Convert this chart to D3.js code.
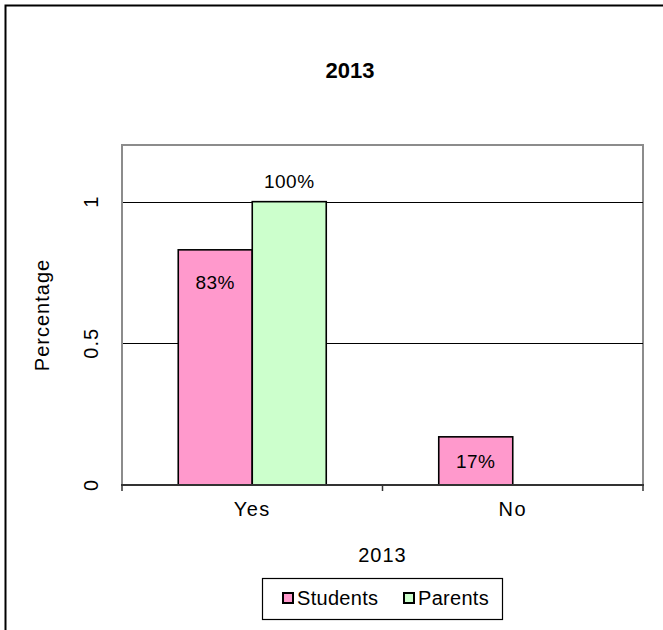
<!DOCTYPE html>
<html>
<head>
<meta charset="utf-8">
<script src="https://cdn.jsdelivr.net/npm/d3@7"></script>
<style>
  html, body { margin: 0; padding: 0; background: #fff; }
  svg { display: block; font-family: "Liberation Sans", Arial, sans-serif; }
</style>
</head>
<body>
<svg id="chart" width="663" height="630"></svg>
<script>
// Survey answers for 2013
const chartTitle = "2013";
const categories = ["Yes", "No"];
const seriesNames = ["Students", "Parents"];
const studentsValues = [0.83, 0.17];
const parentsValues = [1.00, 0.00];
const seriesColors = ["#FF99CC", "#CCFFCC"];
const labelPlacement = ["inside", "outside"];
const yTicks = [0, 0.5, 1];
const yMax = 1.2;
const xAxisTitle = "2013";
const yAxisTitle = "Percentage";

const seriesValues = [studentsValues, parentsValues];

const svg = d3.select("#chart");
const plot = { left: 122, right: 643, top: 145, bottom: 485 };

// outer chart frame (runs past the right and bottom edges of the view)
svg.append("rect")
  .attr("x", 5.5).attr("y", 5.5)
  .attr("width", 720).attr("height", 720)
  .attr("fill", "#fff").attr("stroke", "#000").attr("stroke-width", 2);

// title
svg.append("text")
  .attr("x", 350).attr("y", 78)
  .attr("text-anchor", "middle")
  .attr("font-size", 22).attr("font-weight", "bold")
  .text(chartTitle);

const x0 = d3.scaleBand().domain(categories)
  .range([plot.left, plot.right]).paddingInner(0).paddingOuter(0);
const groupWidth = 148;
const x1 = d3.scaleBand().domain(seriesNames).range([0, groupWidth]).padding(0);
const y = d3.scaleLinear().domain([0, yMax]).range([plot.bottom, plot.top]);

// plot area fill and border
svg.append("rect")
  .attr("x", plot.left).attr("y", plot.top)
  .attr("width", plot.right - plot.left).attr("height", plot.bottom - plot.top)
  .attr("fill", "#fff").attr("stroke", "#8c8c8c").attr("stroke-width", 2);

// horizontal gridlines
svg.append("g")
  .selectAll("line")
  .data(yTicks.filter(d => d > 0))
  .join("line")
  .attr("x1", plot.left).attr("x2", plot.right)
  .attr("y1", d => Math.round(y(d)) + 0.5).attr("y2", d => Math.round(y(d)) + 0.5)
  .attr("stroke", "#000").attr("stroke-width", 1);

// bars
const groups = svg.append("g")
  .selectAll("g")
  .data(categories)
  .join("g")
  .attr("transform", c => `translate(${x0(c) + (x0.bandwidth() - groupWidth) / 2},0)`);

groups.selectAll("rect")
  .data((c, i) => seriesNames.map((s, j) => ({ s, j, v: seriesValues[j][i] })))
  .join("rect")
  .filter(d => d.v > 0)
  .attr("x", d => x1(d.s))
  .attr("y", d => y(d.v))
  .attr("width", x1.bandwidth())
  .attr("height", d => y(0) - y(d.v))
  .attr("fill", d => seriesColors[d.j])
  .attr("stroke", "#000").attr("stroke-width", 1.6);

// value labels
groups.selectAll("text")
  .data((c, i) => seriesNames.map((s, j) => ({ s, j, v: seriesValues[j][i] })).filter(d => d.v > 0))
  .join("text")
  .attr("x", d => x1(d.s) + x1.bandwidth() / 2)
  .attr("y", d => {
    const top = y(d.v);
    const mid = labelPlacement[d.j] === "inside"
      ? Math.min(top + 32, (top + y(0)) / 2)
      : top - 21;
    return mid + 7;
  })
  .attr("text-anchor", "middle")
  .attr("font-size", 19).attr("letter-spacing", 0.5)
  .text(d => d3.format(".0%")(d.v));

// y axis line
svg.append("line")
  .attr("x1", plot.left).attr("x2", plot.left)
  .attr("y1", plot.top).attr("y2", plot.bottom)
  .attr("stroke", "#8c8c8c").attr("stroke-width", 2);

// y tick labels, rotated
svg.append("g")
  .selectAll("text")
  .data(yTicks)
  .join("text")
  .attr("transform", d => `translate(98,${y(d)}) rotate(-90)`)
  .attr("text-anchor", "middle")
  .attr("font-size", 20).attr("letter-spacing", 1)
  .text(d => d3.format("")(d));

// x axis category labels
const xAxis = d3.axisBottom(x0).tickSize(0).tickPadding(17);
const xg = svg.append("g").attr("transform", `translate(0,${plot.bottom})`).call(xAxis);
xg.select(".domain").remove();
xg.selectAll("text")
  .attr("font-size", 20).attr("letter-spacing", 1.5)
  .attr("font-family", "Liberation Sans, Arial, sans-serif").attr("fill", "#000");

svg.append("line")
  .attr("x1", plot.left - 1).attr("x2", plot.right + 1)
  .attr("y1", plot.bottom).attr("y2", plot.bottom)
  .attr("stroke", "#333").attr("stroke-width", 2);

// tick marks at category boundaries
const boundaries = [plot.left, ...categories.slice(1).map(c => x0(c)), plot.right];
svg.append("g")
  .selectAll("line")
  .data(boundaries)
  .join("line")
  .attr("x1", d => d).attr("x2", d => d)
  .attr("y1", plot.bottom).attr("y2", plot.bottom + 6)
  .attr("stroke", "#333").attr("stroke-width", 1.5);

// axis titles
svg.append("text")
  .attr("x", (plot.left + plot.right) / 2).attr("y", 562)
  .attr("text-anchor", "middle").attr("font-size", 20).attr("letter-spacing", 1)
  .text(xAxisTitle);

svg.append("text")
  .attr("transform", `translate(49,${(plot.top + plot.bottom) / 2}) rotate(-90)`)
  .attr("text-anchor", "middle").attr("font-size", 20).attr("letter-spacing", 1)
  .text(yAxisTitle);

// legend
const legend = svg.append("g");
legend.append("rect")
  .attr("x", 262.5).attr("y", 578.5).attr("width", 240).attr("height", 41)
  .attr("fill", "#fff").attr("stroke", "#000").attr("stroke-width", 1.2);

const legendX = [283, 404];
const items = legend.selectAll("g.item")
  .data(seriesNames)
  .join("g")
  .attr("class", "item")
  .attr("transform", (d, i) => `translate(${legendX[i]},0)`);
items.append("rect")
  .attr("x", 0).attr("y", 593).attr("width", 10).attr("height", 10)
  .attr("fill", (d, i) => seriesColors[i])
  .attr("stroke", "#000").attr("stroke-width", 2);
items.append("text")
  .attr("x", 14).attr("y", 605)
  .attr("font-size", 20).attr("letter-spacing", 0.3)
  .text(d => d);
</script>
</body>
</html>
